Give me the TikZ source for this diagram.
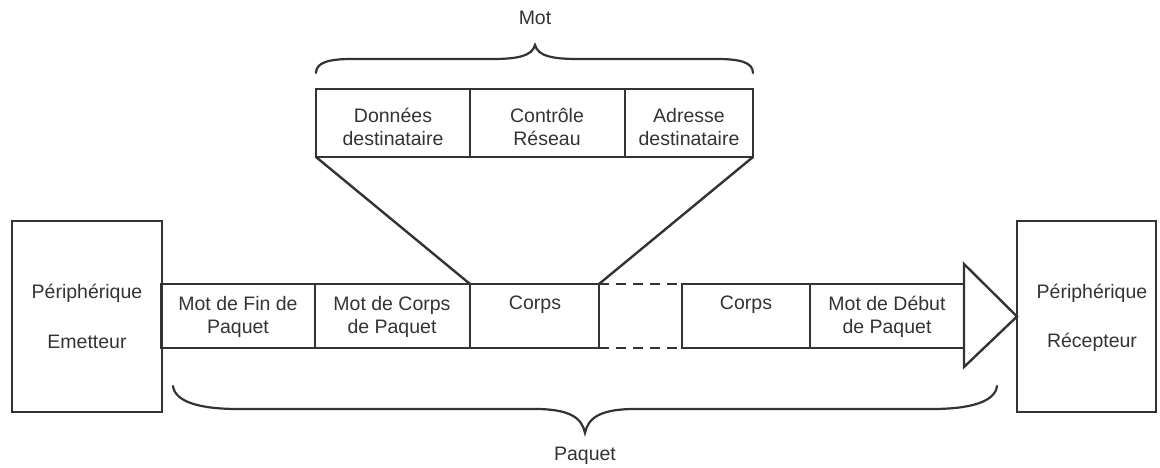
\documentclass[tikz,border=0pt]{standalone}
\usepackage{fontspec}
\setmainfont{Liberation Sans}
\definecolor{ink}{HTML}{333333}
\begin{document}
\begin{tikzpicture}[x=1pt,y=-1pt,
  every node/.style={inner sep=0pt,outer sep=0pt},
  box/.style={draw=ink,line width=2.4pt,rectangle,anchor=north west},
  txt/.style={text=ink,align=center,font=\fontsize{19.5}{23}\selectfont},
  ln/.style={draw=ink,line width=2.4pt},
  dsh/.style={draw=ink,line width=2.4pt,dash pattern=on 10pt off 7pt},
  brace/.style={draw=ink,line width=2.2pt,line cap=round}]
\useasboundingbox (0,0) rectangle (1160,468);
% devices
\node[box,minimum width=150pt,minimum height=191pt] (emet) at (12,221) {};
\node[txt] (emet1) at (87,293) {Périphérique};
\node[txt] (emet2) at (87,342) {Emetteur};
\node[box,minimum width=139pt,minimum height=191pt] (recep) at (1017,221) {};
\node[txt] (recep1) at (1092,293) {Périphérique};
\node[txt] (recep2) at (1092,342) {Récepteur};
% packet band
\node[box,minimum width=154pt,minimum height=64pt] (c1) at (161,284) {};
\node[box,minimum width=155pt,minimum height=64pt] (c2) at (315,284) {};
\node[box,minimum width=129pt,minimum height=64pt] (c3) at (470,284) {};
\node[box,minimum width=128pt,minimum height=64pt] (c5) at (682,284) {};
\node[box,minimum width=154pt,minimum height=64pt] (c6) at (810,284) {};
\node[txt] (t1) at (238,317) {Mot de Fin de\\Paquet};
\node[txt] (t2) at (392,317) {Mot de Corps\\de Paquet};
\node[txt] (t3) at (535,305) {Corps};
\node[txt] (t5) at (746,305) {Corps};
\node[txt] (t6) at (887,317) {Mot de Début\\de Paquet};
\draw[dsh] (c3.north east) -- (c5.north west);
\draw[dsh] (c3.south east) -- (c5.south west);
% arrow head
\coordinate (tipA) at (964,264);
\coordinate (tipB) at (964,367);
\draw[ln,line join=miter] (tipA) -- (recep.west) -- (tipB) -- cycle;
% word
\node[box,minimum width=154pt,minimum height=68pt] (w1) at (316,89) {};
\node[box,minimum width=155pt,minimum height=68pt] (w2) at (470,89) {};
\node[box,minimum width=128pt,minimum height=68pt] (w3) at (625,89) {};
\node[txt] (wt1) at (393,127) {Données\\destinataire};
\node[txt] (wt2) at (547,127) {Contrôle\\Réseau};
\node[txt] (wt3) at (689,127) {Adresse\\destinataire};
\draw[ln] (w1.south west) -- (c3.north west);
\draw[ln] (w3.south east) -- (c3.north east);
% braces
\draw[brace] (316,73) .. controls (316,62) and (330,59) .. (352,59) -- (492,59)
  .. controls (518,59) and (532,56) .. (535,45)
  .. controls (538,56) and (552,59) .. (578,59) -- (717,59)
  .. controls (739,59) and (753,62) .. (753,73);
\node[txt] (mot) at (535,18) {Mot};
\draw[brace] (173,386) .. controls (175,402) and (200,409) .. (238,409) -- (535,409)
  .. controls (570,409) and (582,418) .. (585,433)
  .. controls (588,418) and (600,409) .. (635,409) -- (932,409)
  .. controls (970,409) and (995,402) .. (997,386);
\node[txt] (paq) at (585,456) {Paquet};
\end{tikzpicture}
\end{document}
